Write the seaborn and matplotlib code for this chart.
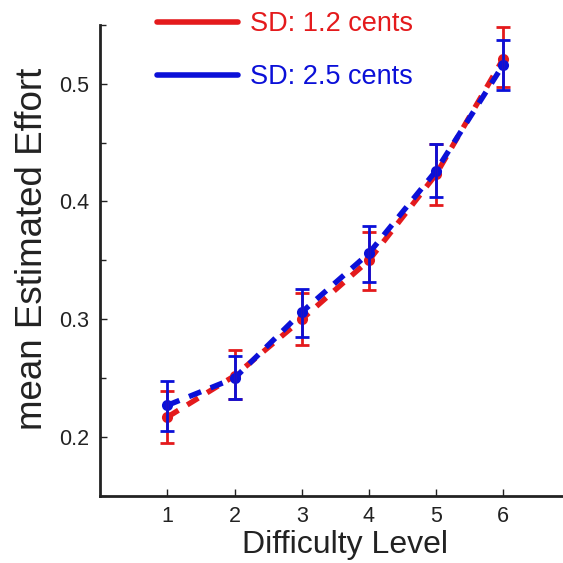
import numpy as np
import pandas as pd
import matplotlib
matplotlib.use("Agg")
import matplotlib.pyplot as plt
import seaborn as sns
from matplotlib.ticker import MultipleLocator
from matplotlib.lines import Line2D

levels = [1, 2, 3, 4, 5, 6]
red_mean = [0.217, 0.252, 0.300, 0.350, 0.423, 0.521]
red_lo = [0.195, 0.232, 0.278, 0.325, 0.397, 0.497]
red_hi = [0.239, 0.274, 0.322, 0.374, 0.449, 0.548]
blue_mean = [0.227, 0.250, 0.306, 0.356, 0.426, 0.516]
blue_lo = [0.205, 0.232, 0.285, 0.332, 0.404, 0.495]
blue_hi = [0.248, 0.269, 0.326, 0.379, 0.449, 0.537]
series_labels = ["SD: 1.2 cents", "SD: 2.5 cents"]
colors = ["#e41a1c", "#0b10d8"]

sns.set_style("white")
plt.rcParams['font.family'] = ['Liberation Sans', 'DejaVu Sans']

df = pd.DataFrame({
    "level": levels * 2,
    "effort": red_mean + blue_mean,
    "series": [series_labels[0]] * 6 + [series_labels[1]] * 6,
})

fig = plt.figure(figsize=(5.63, 5.63), dpi=100)
ax = fig.add_axes([0.178, 0.119, 0.835, 0.837])

sns.lineplot(data=df, x="level", y="effort", hue="series", palette=colors,
             linestyle=(0, (2.4, 1.9)), linewidth=3.9, ax=ax, legend=False,
             marker="o", markersize=8, markeredgewidth=0)

for means, lo, hi, c in [(red_mean, red_lo, red_hi, colors[0]), (blue_mean, blue_lo, blue_hi, colors[1])]:
    m = np.array(means)
    yerr = np.vstack([m - np.array(lo), np.array(hi) - m])
    ax.errorbar(levels, m, yerr=yerr, fmt="none", ecolor=c, elinewidth=2,
                capsize=5, capthick=2, zorder=3)

ax.set_xlim(0, 7)
ax.set_ylim(0.15, 0.55)
ax.set_xticks(levels)
ax.set_yticks([0.2, 0.3, 0.4, 0.5])
ax.yaxis.set_minor_locator(MultipleLocator(0.05))
ax.tick_params(axis="both", which="both", direction="in", labelsize=15.5, colors="#222222",
               length=5, width=1, bottom=True, left=True)
ax.tick_params(axis="y", which="minor", length=4)
ax.tick_params(axis="x", pad=7)
ax.tick_params(axis="y", pad=8)
for s in ["top", "right"]:
    ax.spines[s].set_visible(False)
for s in ["left", "bottom"]:
    ax.spines[s].set_color("#222222")
    ax.spines[s].set_linewidth(2)

ax.set_xlabel("Difficulty Level", fontsize=23, color="#222222", labelpad=0)
ax.set_ylabel("mean Estimated Effort", fontsize=26.5, color="#222222", labelpad=4)
ax.xaxis.set_label_coords(0.521, -0.072, transform=ax.transAxes)
ax.yaxis.set_label_coords(-0.107, 0.525, transform=ax.transAxes)

handles = [Line2D([0], [0], color=colors[0], lw=4), Line2D([0], [0], color=colors[1], lw=4)]
leg = ax.legend(handles, series_labels, loc="upper left", bbox_to_anchor=(0.068, 1.08),
                frameon=False, fontsize=19.5, handlelength=3.0, handletextpad=0.45,
                labelspacing=0.98)
for t, c in zip(leg.get_texts(), colors):
    t.set_color(c)

fig.savefig("out.png", dpi=100)
